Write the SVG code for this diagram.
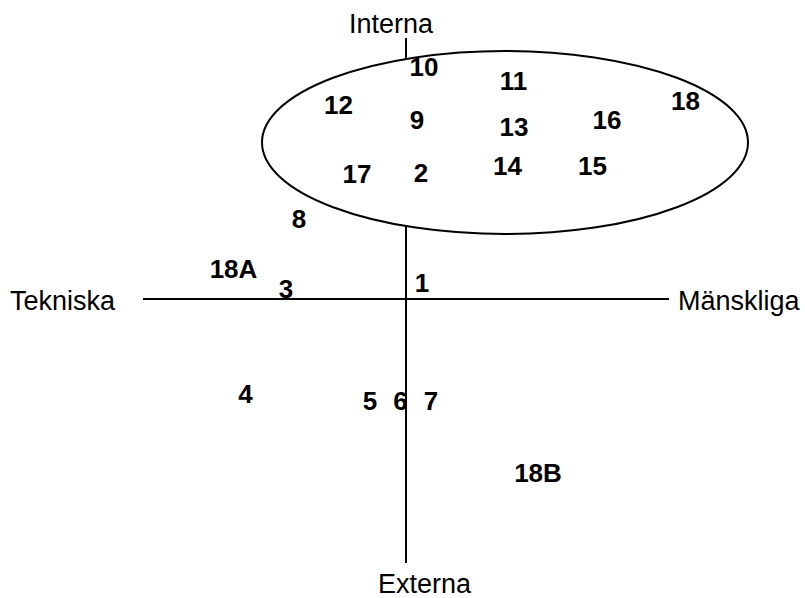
<svg xmlns="http://www.w3.org/2000/svg" width="805" height="598" viewBox="0 0 805 598">
<style>
.ax{stroke:#000;stroke-width:2;fill:none}
.lbl{font-family:"Liberation Sans",Arial,sans-serif;font-size:27px;fill:#000}
.num{font-family:"Liberation Sans",Arial,sans-serif;font-size:26px;font-weight:bold;fill:#000;text-anchor:middle}
</style>
<rect width="805" height="598" fill="#fff"/>
<g id="connectors">
<line class="ax" x1="406" y1="38" x2="406" y2="563"/>
<line class="ax" x1="143" y1="299" x2="669" y2="299"/>
</g>
<g id="cluster">
<ellipse cx="505" cy="142.5" rx="243" ry="91.5" fill="#fff" stroke="#000" stroke-width="2"/>
</g>
<g id="axis-labels">
<text id="interna" class="lbl" x="391" y="33" text-anchor="middle">Interna</text>
<text id="tekniska" class="lbl" x="10" y="310">Tekniska</text>
<text id="manskliga" class="lbl" x="678" y="310">Mänskliga</text>
<text id="externa" class="lbl" x="424.5" y="593" text-anchor="middle">Externa</text>
</g>
<g id="n10"><text class="num" x="424" y="76">10</text></g>
<g id="n11"><text class="num" x="513.5" y="90">11</text></g>
<g id="n12"><text class="num" x="338.5" y="114">12</text></g>
<g id="n9"><text class="num" x="417" y="129">9</text></g>
<g id="n13"><text class="num" x="514" y="136">13</text></g>
<g id="n16"><text class="num" x="607" y="129">16</text></g>
<g id="n18"><text class="num" x="685.5" y="110">18</text></g>
<g id="n17"><text class="num" x="357" y="183">17</text></g>
<g id="n2"><text class="num" x="421" y="182">2</text></g>
<g id="n14"><text class="num" x="507.5" y="175">14</text></g>
<g id="n15"><text class="num" x="592.5" y="175">15</text></g>
<g id="n8"><text class="num" x="299" y="228">8</text></g>
<g id="n18A"><text class="num" x="233.5" y="278">18A</text></g>
<g id="n3"><text class="num" x="286" y="298">3</text></g>
<g id="n1"><text class="num" x="422" y="292">1</text></g>
<g id="n4"><text class="num" x="245.5" y="403">4</text></g>
<g id="n5"><text class="num" x="370" y="410">5</text></g>
<g id="n6"><text class="num" x="400.5" y="410">6</text></g>
<g id="n7"><text class="num" x="431" y="410">7</text></g>
<g id="n18B"><text class="num" x="538" y="482">18B</text></g>
</svg>
